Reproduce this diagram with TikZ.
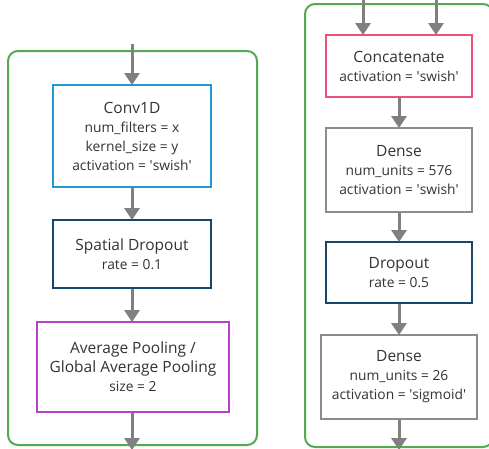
\documentclass[tikz,border=0pt]{standalone}
\usepackage{fontspec}
\setmainfont{Open Sans}
\usetikzlibrary{arrows.meta}
\definecolor{framegreen}{RGB}{84,170,80}
\definecolor{convblue}{RGB}{30,155,215}
\definecolor{darkblue}{RGB}{22,70,105}
\definecolor{poolpurple}{RGB}{182,64,200}
\definecolor{concatpink}{RGB}{240,80,120}
\definecolor{densegray}{RGB}{140,140,140}
\definecolor{arrowgray}{RGB}{128,128,128}
\tikzset{
  frame/.style={draw=framegreen, line width=2pt, rounded corners=10pt},
  layer/.style={draw, line width=2pt, rectangle, inner sep=0pt, align=center, text=black!80,
    font=\fontsize{13.8}{19}\selectfont},
  arr/.style={draw=arrowgray, line width=3pt, -{Triangle[length=12pt,width=15pt]}, shorten >=-1pt},
}
\newcommand{\ttl}[1]{{\fontsize{15.5}{19}\selectfont #1}}
\newcommand{\q}{\textquotesingle}
\begin{document}
\begin{tikzpicture}[x=1pt,y=-1pt]
\useasboundingbox (0,0) rectangle (489,448);
\fill[white] (0,0) rectangle (489,448);
% frames
\draw[frame] (8,51) rectangle (257,445);
\draw[frame] (305,4) rectangle (493,447);
% left column
\node[layer, draw=convblue, minimum width=158pt, minimum height=102pt] (conv) at (132,136)
  {\ttl{Conv1D}\\num\_filters = x\\kernel\_size = y\\activation = \q swish\q};
\node[layer, draw=darkblue, minimum width=158pt, minimum height=68pt] (sdrop) at (132,254)
  {\ttl{Spatial Dropout}\\rate = 0.1};
\node[layer, draw=poolpurple, minimum width=192pt, minimum height=90pt] (pool) at (133,367)
  {\ttl{Average Pooling /}\\\ttl{Global Average Pooling}\\size = 2};
\coordinate (lin) at (132,44);
\coordinate (lout) at (132,449);
\draw[arr] (lin) -- (conv.north);
\draw[arr] (conv.south) -- (sdrop.north);
\draw[arr] (sdrop.south) -- (pool.north -| sdrop.south);
\draw[arr] (pool.south -| sdrop.south) -- (lout);
% right column
\node[layer, draw=concatpink, minimum width=146pt, minimum height=62pt] (cat) at (399,66)
  {\ttl{Concatenate}\\activation = \q swish\q};
\node[layer, draw=densegray, minimum width=146pt, minimum height=84pt] (d1) at (399,170)
  {\ttl{Dense}\\num\_units = 576\\activation = \q swish\q};
\node[layer, draw=darkblue, minimum width=146pt, minimum height=61pt] (drop) at (399,272.5)
  {\ttl{Dropout}\\rate = 0.5};
\node[layer, draw=densegray, minimum width=156pt, minimum height=84pt] (d2) at (399,377)
  {\ttl{Dense}\\num\_units = 26\\activation = \q sigmoid\q};
\coordinate (rin1) at (363,-1);
\coordinate (rin2) at (436,-1);
\coordinate (rout) at (399,449);
\draw[arr] (rin1) -- (rin1 |- cat.north);
\draw[arr] (rin2) -- (rin2 |- cat.north);
\draw[arr] (cat.south) -- (d1.north);
\draw[arr] (d1.south) -- (drop.north);
\draw[arr] (drop.south) -- (d2.north);
\draw[arr] (d2.south) -- (rout);
\end{tikzpicture}
\end{document}
